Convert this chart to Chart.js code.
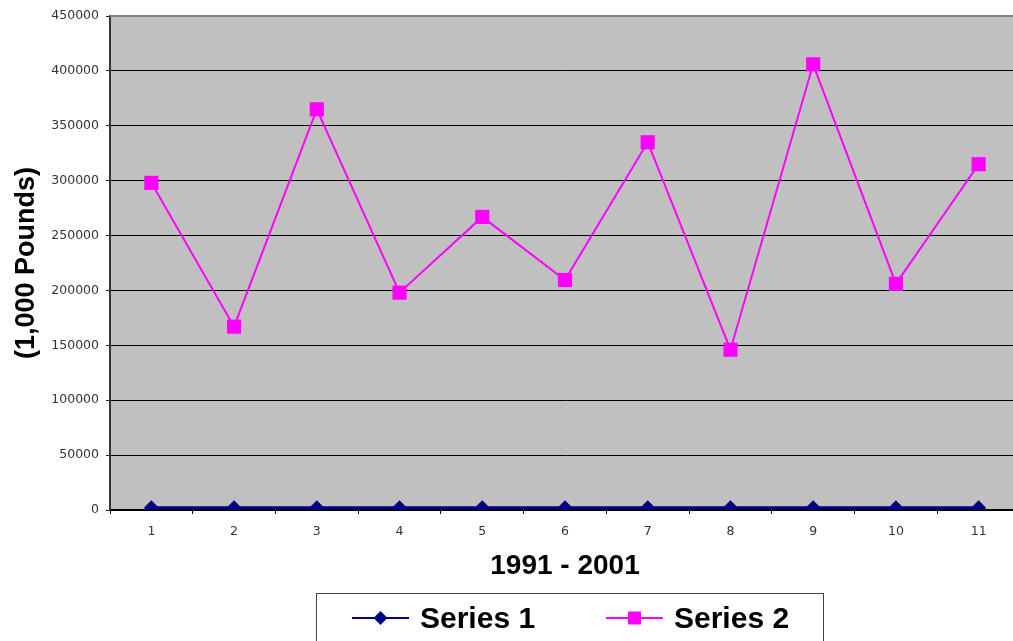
<!DOCTYPE html>
<html>
<head>
<meta charset="utf-8">
<script src="https://cdn.jsdelivr.net/npm/chart.js@4"></script>
<style>
  html, body { margin: 0; padding: 0; background: #ffffff; overflow: hidden; }
  canvas { display: block; }
</style>
</head>
<body>
<canvas id="c" width="1030" height="641"></canvas>
<script>
const categories = ['1', '2', '3', '4', '5', '6', '7', '8', '9', '10', '11'];
const series1Label = 'Series 1';
const series2Label = 'Series 2';
const series1Values = [2000, 2000, 2000, 2000, 2000, 2000, 2000, 2000, 2000, 2000, 2000];
const series2Values = [298000, 167000, 365000, 198000, 267000, 209500, 335000, 146000, 406000, 206000, 315000];
const yTickValues = [0, 50000, 100000, 150000, 200000, 250000, 300000, 350000, 400000, 450000];
const xTitle = '1991 - 2001';
const yTitle = '(1,000 Pounds)';

const plotBg = {
  id: 'plotBg',
  beforeDraw(chart) {
    const {ctx, chartArea: a} = chart;
    ctx.save();
    ctx.fillStyle = '#C0C0C0';
    ctx.fillRect(a.left, a.top, a.right - a.left, a.bottom - a.top);
    ctx.restore();
  },
  afterDatasetsDraw(chart) {
    const {ctx, chartArea: a} = chart;
    ctx.save();
    ctx.strokeStyle = '#808080';
    ctx.lineWidth = 2;
    ctx.beginPath();
    ctx.moveTo(a.left, a.top);
    ctx.lineTo(a.right, a.top);
    ctx.lineTo(a.right, a.bottom);
    ctx.stroke();
    ctx.restore();
  }
};

const boxLegend = {
  id: 'boxLegend',
  afterDraw(chart) {
    const ctx = chart.ctx;
    ctx.save();
    ctx.strokeStyle = '#444444';
    ctx.lineWidth = 1;
    ctx.strokeRect(316.5, 593.5, 507, 80);
    const itemX = [352, 606];
    const cy = 618;
    chart.data.datasets.forEach((ds, i) => {
      const x0 = itemX[i];
      ctx.strokeStyle = ds.borderColor;
      ctx.lineWidth = 2;
      ctx.beginPath();
      ctx.moveTo(x0, cy);
      ctx.lineTo(x0 + 57, cy);
      ctx.stroke();
      ctx.fillStyle = ds.pointBackgroundColor;
      const mx = x0 + 28.5;
      if (ds.pointStyle === 'rectRot') {
        ctx.beginPath();
        ctx.moveTo(mx - 7, cy);
        ctx.lineTo(mx, cy - 7);
        ctx.lineTo(mx + 7, cy);
        ctx.lineTo(mx, cy + 7);
        ctx.closePath();
        ctx.fill();
      } else {
        ctx.fillRect(mx - 6.5, cy - 6.5, 13, 13);
      }
      ctx.fillStyle = '#000000';
      ctx.font = 'bold 30px "Liberation Sans", Arial, sans-serif';
      ctx.textBaseline = 'alphabetic';
      ctx.textAlign = 'left';
      ctx.fillText(ds.label, x0 + 68, 628);
    });
    ctx.restore();
  }
};

new Chart(document.getElementById('c'), {
  type: 'line',
  data: {
    labels: categories,
    datasets: [
      {
        label: series1Label,
        data: series1Values,
        borderColor: '#000080',
        backgroundColor: '#000080',
        pointBackgroundColor: '#000080',
        pointBorderColor: '#000080',
        borderWidth: 3,
        pointStyle: 'rectRot',
        pointRadius: 7.5,
        pointBorderWidth: 0,
        tension: 0
      },
      {
        label: series2Label,
        data: series2Values,
        borderColor: '#FF00FF',
        backgroundColor: '#FF00FF',
        pointBackgroundColor: '#FF00FF',
        pointBorderColor: '#FF00FF',
        borderWidth: 2,
        pointStyle: 'rect',
        pointRadius: 10,
        pointBorderWidth: 0,
        tension: 0
      }
    ]
  },
  options: {
    responsive: false,
    animation: false,
    devicePixelRatio: 1,
    layout: { padding: { top: 16, right: 4, bottom: 51, left: 0 } },
    plugins: {
      legend: { display: false },
      tooltip: { enabled: false }
    },
    scales: {
      x: {
        offset: true,
        afterFit(scale) { scale.height = 80; },
        grid: {
          offset: true,
          drawOnChartArea: false,
          drawTicks: true,
          tickLength: 4,
          tickColor: '#000000',
          tickWidth: 1
        },
        border: { color: '#000000', width: 2 },
        ticks: {
          color: '#333333',
          padding: 10,
          maxRotation: 0,
          font: { family: '"DejaVu Sans", sans-serif', size: 12.5 }
        },
        title: {
          display: true,
          text: xTitle,
          color: '#000000',
          font: { family: '"Liberation Sans", Arial, sans-serif', size: 28, weight: 'bold', lineHeight: 1 },
          padding: { top: 0, bottom: 10 }
        }
      },
      y: {
        min: 0,
        max: 450000,
        afterFit(scale) { scale.width = 110; },
        afterBuildTicks(scale) { scale.ticks = yTickValues.map(v => ({ value: v })); },
        grid: {
          color: (c) => (c.tick && c.tick.value === 450000) ? '#808080' : '#000000',
          lineWidth: 1,
          tickLength: 4,
          tickColor: '#222222'
        },
        border: { color: '#333333', width: 2 },
        ticks: {
          color: '#333333',
          padding: 7,
          font: { family: '"DejaVu Sans", sans-serif', size: 12.5 },
          callback: (v) => String(v)
        },
        title: {
          display: true,
          text: yTitle,
          color: '#000000',
          font: { family: '"Liberation Sans", Arial, sans-serif', size: 27, weight: 'bold', lineHeight: 1 },
          padding: { top: 13, bottom: 0 }
        }
      }
    }
  },
  plugins: [plotBg, boxLegend]
});
</script>
</body>
</html>
